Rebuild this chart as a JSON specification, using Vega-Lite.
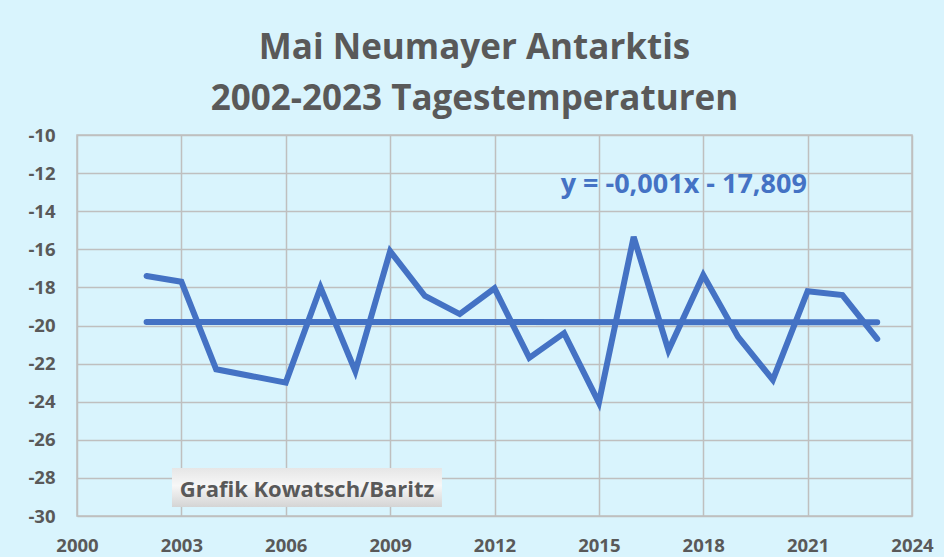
{
  "$schema": "https://vega.github.io/schema/vega-lite/v6.json",
  "width": 835,
  "height": 381,
  "autosize": {"type": "none"},
  "padding": {"left": 77, "top": 135, "right": 32, "bottom": 41},
  "background": "#D9F4FD",
  "title": {
    "text": ["Mai Neumayer Antarktis", "2002-2023 Tagestemperaturen"],
    "font": "Open Sans",
    "fontSize": 35,
    "fontWeight": "bold",
    "color": "#595959",
    "lineHeight": 51,
    "anchor": "middle",
    "dx": -20,
    "offset": 9
  },
  "config": {
    "view": {"stroke": "#BFBFBF", "strokeWidth": 1.5},
    "axis": {
      "grid": true,
      "gridColor": "#BFBFBF",
      "gridWidth": 1.5,
      "gridOpacity": 1,
      "ticks": false,
      "domain": false,
      "labelFont": "Open Sans",
      "labelFontSize": 18.5,
      "labelFontWeight": "bold",
      "labelColor": "#595959",
      "labelOverlap": false,
      "title": null
    }
  },
  "datasets": {
    "temps": [
      {"year": 2002, "temp": -17.4},
      {"year": 2003, "temp": -17.7},
      {"year": 2004, "temp": -22.3},
      {"year": 2005, "temp": -22.65},
      {"year": 2006, "temp": -23.0},
      {"year": 2007, "temp": -18.0},
      {"year": 2008, "temp": -22.4},
      {"year": 2009, "temp": -16.1},
      {"year": 2010, "temp": -18.45},
      {"year": 2011, "temp": -19.4},
      {"year": 2012, "temp": -18.05},
      {"year": 2013, "temp": -21.7},
      {"year": 2014, "temp": -20.4},
      {"year": 2015, "temp": -24.05},
      {"year": 2016, "temp": -15.35},
      {"year": 2017, "temp": -21.3},
      {"year": 2018, "temp": -17.35},
      {"year": 2019, "temp": -20.6},
      {"year": 2020, "temp": -22.85},
      {"year": 2021, "temp": -18.2},
      {"year": 2022, "temp": -18.4},
      {"year": 2023, "temp": -20.7}
    ],
    "trend": [
      {"year": 2002, "temp": -19.81},
      {"year": 2023, "temp": -19.83}
    ]
  },
  "layer": [
    {
      "data": {"name": "trend"},
      "mark": {"type": "line", "color": "#4472C4", "strokeWidth": 6, "strokeCap": "round"},
      "encoding": {
        "x": {"field": "year", "type": "quantitative", "scale": {"domain": [2000, 2024], "nice": false, "zero": false},
              "axis": {"values": [2000, 2003, 2006, 2009, 2012, 2015, 2018, 2021, 2024], "tickCount": 20, "labelExpr": "toString(datum.value)", "labelPadding": 20, "labelOverlap": false, "labelFlush": false}},
        "y": {"field": "temp", "type": "quantitative", "scale": {"domain": [-30, -10], "nice": false, "zero": false},
              "axis": {"values": [-30, -28, -26, -24, -22, -20, -18, -16, -14, -12, -10], "tickCount": 20, "labelExpr": "toString(datum.value)", "labelPadding": 22, "labelOverlap": false, "labelFlush": false}}
      }
    },
    {
      "data": {"name": "temps"},
      "mark": {"type": "line", "color": "#4472C4", "strokeWidth": 6, "strokeCap": "round"},
      "encoding": {
        "x": {"field": "year", "type": "quantitative"},
        "y": {"field": "temp", "type": "quantitative"}
      }
    },
    {
      "data": {"values": [{"label": "y = -0,001x - 17,809"}]},
      "mark": {"type": "text", "font": "Open Sans", "fontSize": 27, "fontWeight": "bold", "color": "#4472C4", "align": "center", "baseline": "middle"},
      "encoding": {
        "x": {"datum": 2017.44, "type": "quantitative"},
        "y": {"datum": -12.62, "type": "quantitative"},
        "text": {"field": "label"}
      }
    },
    {
      "data": {"values": [{"label": "Grafik Kowatsch/Baritz"}]},
      "mark": {"type": "rect", "fill": {"gradient": "linear", "x1": 0, "y1": 0, "x2": 0, "y2": 1, "stops": [{"offset": 0, "color": "#E6E6E6"}, {"offset": 0.45, "color": "#F7F7F7"}, {"offset": 1, "color": "#D4D4D4"}]}},
      "encoding": {
        "x": {"datum": 2002.73, "type": "quantitative"},
        "x2": {"datum": 2010.49},
        "y": {"datum": -27.48, "type": "quantitative"},
        "y2": {"datum": -29.53}
      }
    },
    {
      "data": {"values": [{"label": "Grafik Kowatsch/Baritz"}]},
      "mark": {"type": "text", "font": "Open Sans", "fontSize": 22, "fontWeight": "bold", "color": "#595959", "align": "center", "baseline": "middle"},
      "encoding": {
        "x": {"datum": 2006.61, "type": "quantitative"},
        "y": {"datum": -28.64, "type": "quantitative"},
        "text": {"field": "label"}
      }
    }
  ]
}
